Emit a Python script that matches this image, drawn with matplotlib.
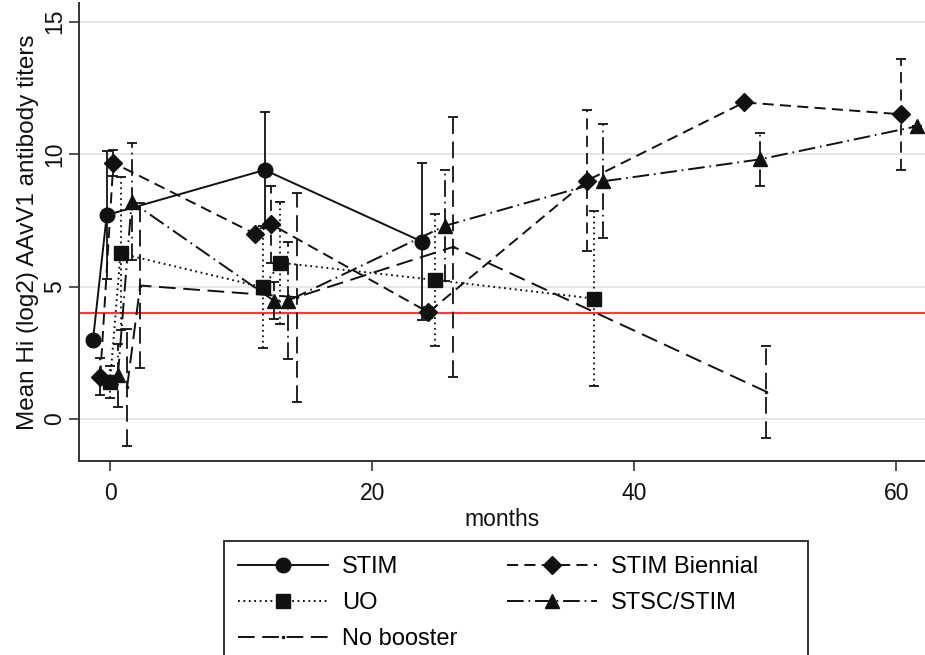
import matplotlib
matplotlib.use('Agg')
import matplotlib.pyplot as plt
from matplotlib.lines import Line2D
from matplotlib.patches import Rectangle

plt.rcParams['font.family'] = ['Liberation Sans', 'DejaVu Sans']
plt.rcParams['lines.scale_dashes'] = False

# ---------------- data ----------------
stim_x = [-1.3, -0.25, 11.8, 23.8]
stim_y = [3.0, 7.7, 9.4, 6.7]
stim_e = [0.0, 2.4, 2.2, 2.95]

bien_x = [-0.75, 0.25, 11.1, 12.3, 24.3, 36.4, 48.4, 60.4]
bien_y = [1.6, 9.67, 6.98, 7.35, 4.03, 9.0, 11.95, 11.5]
bien_e = [0.7, 0.5, 0.0, 1.45, 0.2, 2.65, 0.0, 2.1]

uo_x = [0.0, 0.8, 11.7, 13.0, 24.8, 36.9]
uo_y = [1.4, 6.25, 4.97, 5.9, 5.25, 4.55]
uo_e = [0.6, 2.9, 2.3, 2.3, 2.5, 3.3]

stsc_x = [0.6, 1.65, 12.5, 13.6, 25.6, 37.6, 49.6, 61.6]
stsc_y = [1.65, 8.2, 4.47, 4.47, 7.3, 8.97, 9.8, 11.05]
stsc_e = [1.2, 2.2, 0.7, 2.2, 2.1, 2.15, 1.0, 0.0]

nob_x = [1.3, 2.3, 14.25, 26.2, 50.1]
nob_y = [1.2, 5.04, 4.6, 6.5, 1.03]
nob_e = [2.2, 3.1, 3.95, 4.9, 1.73]

threshold = 4
x_ticks = [0, 20, 40, 60]
y_ticks = [0, 5, 10, 15]
x_label = 'months'
y_label = 'Mean Hi (log2) AAvV1 antibody titers'

# ---------------- styles ----------------
INK = '#111111'
SOLID = '-'
DASH = (0, (8, 4.5))
DOT = (0, (1.3, 2.6))
LDASHDOT = (0, (12, 3.5, 1.2, 3.5))
LDASH = (0, (12, 5.5))

series = [
    ('STIM', stim_x, stim_y, stim_e, 'o', 10.5, SOLID),
    ('UO', uo_x, uo_y, uo_e, 's', 9.5, DOT),
    ('No booster', nob_x, nob_y, nob_e, '.', 3, LDASH),
    ('STIM Biennial', bien_x, bien_y, bien_e, 'D', 9.5, DASH),
    ('STSC/STIM', stsc_x, stsc_y, stsc_e, '^', 10.5, LDASHDOT),
]

fig = plt.figure(figsize=(9.25, 6.55), dpi=100)
ax = fig.add_axes([79 / 925, (655 - 461) / 655, 1 - 79 / 925, (461 - 3) / 655])

ax.set_xlim(-2.37, 62.2)
ax.set_ylim(-1.58, 15.7)

ax.yaxis.grid(True, color='#e4e4e4', lw=1.3)
ax.set_axisbelow(True)

ax.axhline(threshold, color='#e2433a', lw=1.6, zorder=1.5)

handles = []
for label, x, y, e, mk, ms, ls in series:
    eb = ax.errorbar(x, y, yerr=e, fmt='none', ecolor=INK, elinewidth=1.3,
                     capsize=3.8, capthick=1.3, zorder=2)
    for coll in eb.lines[2]:
        coll.set_linestyle(ls)
    ax.plot(x, y, color=INK, lw=1.4, linestyle=ls, marker=mk, markersize=ms,
            markerfacecolor=INK, markeredgecolor=INK, zorder=3)
    handles.append(Line2D([], [], color=INK, lw=1.4, linestyle=ls, marker=mk,
                          markersize=ms, markerfacecolor=INK, markeredgecolor=INK))

for side in ['top', 'right']:
    ax.spines[side].set_visible(False)
for side in ['left', 'bottom']:
    ax.spines[side].set_color('#333333')
    ax.spines[side].set_linewidth(1.4)

ax.set_xticks(x_ticks)
ax.set_yticks(y_ticks)
ax.tick_params(axis='both', length=7, width=1.2, color='#333333',
               labelsize=16.5, labelcolor='#111111')
ax.tick_params(axis='x', pad=8)
ax.tick_params(axis='y', labelrotation=90, pad=2)
for t in ax.get_yticklabels():
    t.set_va('center')
ax.set_xlabel(x_label, fontsize=16.5, color='#111111', labelpad=2)
ax.set_ylabel(y_label, fontsize=17.5, color='#111111', labelpad=3)

# legend frame (Stata-style box, bottom cut by figure edge)
fig.patches.append(Rectangle((224 / 925, 1 - 700 / 655), (808 - 224) / 925,
                             (700 - 541) / 655, transform=fig.transFigure,
                             fill=False, edgecolor='#333333', lw=1.4))
leg = fig.legend(handles, [s[0] for s in series], ncol=2, loc='upper left',
                 bbox_to_anchor=(238 / 925, 1 - 556 / 655), fontsize=17,
                 handlelength=3.8, columnspacing=2.1, labelspacing=0.6,
                 borderpad=0, borderaxespad=0, handletextpad=0.6,
                 frameon=False, numpoints=1)

fig.savefig('out.png', dpi=100)
